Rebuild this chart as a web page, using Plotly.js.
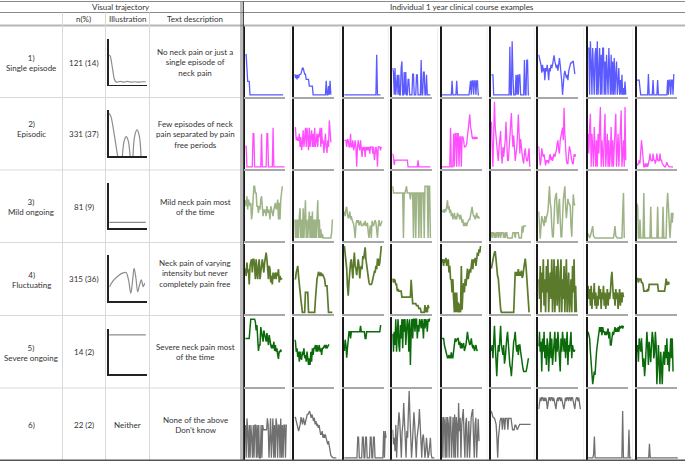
<!DOCTYPE html>
<html><head><meta charset="utf-8">
<script src="https://cdn.plot.ly/plotly-3.0.1.min.js"></script>
<style>html,body{margin:0;padding:0;background:#fff}#chart{width:685px;height:461px}</style>
</head><body><div id="chart"></div>
<script>
// ---------- text content ----------
const headerLeft = 'Visual trajectory';
const headerRight = 'Individual 1 year clinical course examples';
const columnHeaders = ['n(%)', 'Illustration', 'Text description'];
const trajectoryLabels = ['1)<br>Single episode', '2)<br>Episodic', '3)<br>Mild ongoing', '4)<br>Fluctuating', '5)<br>Severe ongoing', '6)'];
const nPercent = ['121 (14)', '331 (37)', '81 (9)', '315 (36)', '14 (2)', '22 (2)'];
const descriptions = [
  'No neck pain or just a<br>single episode of<br>neck pain',
  'Few episodes of neck<br>pain separated by pain<br>free periods',
  'Mild neck pain most<br>of the time',
  'Neck pain of varying<br>intensity but never<br>completely pain free',
  'Severe neck pain most<br>of the time',
  'None of the above<br>Don’t know'
];
const neitherText = 'Neither';

// ---------- weekly pain values (0-10) for the 9 example courses per trajectory ----------
const singleEpisodeExamples = [
  [6,6,4,2,2,2,0,0,0,0,0,0,0,0,0,0,0,0,0,0,0,0,0,0,0,0,0,0,0,0,0,0,0,0,0,0,0,0,0,0,0,0,0,0,0,0,0,0,0,0],
  [3.1,2.5,3,2.3,3,2.5,3,3.1,3.1,3.5,4,4,3.5,3.1,3.1,2.3,2.3,2.3,2.3,1.3,1.3,1.3,1.3,1.3,0,0,0,0,0,0,0,0,0,0,0,0,0,0,0,0,0,2.1,0,0,1.3,0,2.1,0],
  [0,0,0,0,0,0,0,0,0,0,0,0,0,0,0,0,0,0,0,0,0,0,0,0,0,0,0,0,0,0,0,0,0,0,0,0,0,0,0,0,0,0,6,0,0,0,0,0],
  [4,3.4,0,4,0,2.3,3,0,3,0,0,4,5,0,0,3.4,0,3.4,0,0,2.3,2.3,0,0,0,0,3.1,3.1,0,0,0,3,3,0,0,0,0,5.2,0,0,3.4,3.4,0,0,3,0,0,0,0,0],
  [0,0,0,0,0,0,0,0,0,0,0,0,0,2.1,0,0,0,0,0,2.1,0,0,0,0,0,0,0,0,0,0,0,0,0,0,0,0,1,2.1,0,2.1,2.1,0,2.1,2.1,0,2.1,2.1,0,0],
  [3,3,3,0,0,0,0,0,0,0,0,0,0,0,0,0,0,0,0,0,0,0,0,0,7.2,0,0,8,3,0,0,0,3,0,3,0,3,3,0,0,0,0,0,5.2,0,0,5.2,5.2,0,0],
  [6,5.5,5.2,4.5,3.3,4.5,3.5,4,2.2,4,3.5,4.5,3.5,2.2,4,3.5,4.5,4,4.5,5,5.9,5,4.5,4,4.5,3.6,4.5,5.5,4.5,3.5,2,0,2.5,3,3.6,3,2.5,3,2.2,3.5,4.3,4.5,4.8,4.8,5,5,4,3.1],
  [7,7,0,8,5,0,7,3,0,6,7,0,8,0,5,7,0,6,0,7,7,0,5,0,6,3,0,7,2,0,6,0,5,0,5.5,0,3,5,0,2,4,0,2.2,0,3,0,1,0,2,0],
  [2.2,2.2,2.2,2.2,1,0,0,0,0,0,0,0,0,0,0,3.1,0,0,0,0,0,2.2,0,0,0,0,0,2.2,0,0,0,0,0,0,0,0,0,0,0,0,2.2,0,2.2,2.2,0,2.2,2.2,0,3.1]
];
const episodicExamples = [
  [3.1,3.1,0,0,0,0,0,0,0,0,5,5,0,0,0,0,0,0,0,0,0,5,0,0,0,0,0,0,5,5,0,0,0,0,0,0,5.9,0,0,0,0,0,0,0,0,0,0,0,0,0,0,0],
  [5.9,5.9,4,4.5,4,4,5,3,4.5,2.5,3.5,5.5,3,4,5.9,3,5.9,4.5,2.5,5.9,3,4.5,5.5,3,5,3,5.9,3,4.5,5,3,5,4.5,5.9,3,5.9,3.5,4,2.1,4,5,3,2.1,4,3,7,4,3.8,3.8],
  [4,4,4,3,4.2,4,3,3,5,3,3,4,2.5,3,4,3,0,3,4,3,2.5,4,3,1.5,3,2.5,3,1.5,3,2.5,3,2.5,3,2,3,3,3,2,3,1,2,3,2.5,0,3,3,3,2.5,3],
  [2,1.5,0.3,1,1,1,1,1,1,1,1,1,1,1,1,1,1,1,1,1,0,0,0,0,0,0,0,0,0,0,0,0,0,1,0,0,0,0,0,0,0,0,0,0,0,0,0,0,0,0],
  [0,0,0,0,0,0,0,0,0,0,0,5.9,0,0,0,5,0,5,5,0,5,5,0,4.5,4.5,0,4.5,4.5,4,3,3,3.1,3.5,4.5,5,6,7.9,6,5.5,4.5,4.2,4.5,4.2,4.5,4.2,4.5,4.2],
  [6.8,3,0,5,9.8,6,3.5,3.3,2,0.9,3,4,5.4,2,0.5,3,1.5,2.8,4,6.8,3,1,0.9,3,3.3,6,8.1,5,3,4.7,2,0.9,2,2.8,5,7.9,5,2,4.2,2.5,1.9,1,0.5,2,2.8,1.5,0.9,0.9,2,2.8,0],
  [3.1,1.5,0.2,1,2.8,2,1.5,1.9,1,0.2,1,0.7,1,0.5,1.5,1.9,1,1.5,0.9,1.9,2,1.5,1.9,2.5,3.5,4,2.5,2,4,4.7,5,5.9,4,8.9,5,2,1,0.5,0.5,2,3.1,2.5,1.5,1,0.5,0.5,1.9,1.5,1.9],
  [5,2,6,8,0,5,3,0,6,2,0,4,0,5,2,6,9,0,4,2,0,5,8,0,3,5,0,4,0,2,6,0,4,0,3,5,8,0,2,5,0,3,6,8.5,0,2,4,0,9,1],
  [0.5,0.3,0.5,1,0.5,2,4,2.8,1,0,0,0.5,0,0.5,0,0.5,1,2,1,1,0.8,2,1,1,0.5,1,2,1,1,0.8,2,1,1,0.5,0.3,0,0,0,0.5,0.7,0.3,0,0,0,0,0,0,0]
];
const mildOngoingExamples = [
  [5.9,5,6.5,4.5,6,5.5,5,5.5,3,4,6,8,8,7,7,5,5,4,5,4.5,6,6.5,5,3.5,4.5,4,4.5,3.5,5,4,4.5,4,3,5,4.5,4,3.5,4.5,5,5.5,4.5,5,6,3,5.5,3,6,7,8],
  [3,0.2,3,0.2,3,0.2,3.5,4.7,0.2,3,0.2,4.7,0.2,3.5,5.9,0.2,3,0.2,3,4.2,0.2,3.5,0.2,4.2,0.2,3,0.2,3,0.2,3,5.9,0.2,3,0.2,1.5,0.2,0.8,0.2,0.2,0.2,0.2,0.2,0.2,0.2,0.2,0.2,0.2,0.2,1,3],
  [4.2,3.5,4.5,4.9,3.8,3.2,3.5,4.2,3,3.5,2.9,2.5,2.3,1.5,0.2,2,2.9,2.5,2.9,2.1,2.5,2.8,2.1,2.1,2.1,2.5,2.1,2.8,2.1,2.1,2.5,1,0.2,1.5,2.1,0.2,2.8,2.1,2.1,2.5,2.9,2.5,1,0.2,2,2.9,2.1,2.1,2.5,2.8],
  [8,7,7,7,7,7,7,7,7,7,7,7,7,7,0.2,7,7,7.5,8,7,7,7,7,6,7,7,7,0.2,7,7,0.2,7,7,7,0.2,7,7,0.2,7,7,7,0.2,8,8,8,8,0.2,8,8,0.2],
  [4.2,4.2,4.5,4,4.5,4.2,5,5.9,4.5,5,4,4.5,3.5,4,3,3.5,4,3,3.5,3,4,3.5,3.7,3,3.7,3.2,2.5,3,2,2.5,2,2.5,2,2.5,3,3,3,3.5,4.2,4.9,4,3.5,3.5,3,3.5,4,3.2,3.5,3.2,3.2],
  [1.1,0.2,1,1,0.2,1,0.2,1,1,0.2,1,1,0.2,1,1,1,0.2,1,0.2,1,1,0.2,0.2,0.2,0.2,0.2,0.2,0.2,1,1,1,0.2,1,1,1,1,0.2,0.2,0.2,0.2,2,1,2,2,2,2],
  [4.2,2,0.1,2,3.5,3,2.5,2,3.5,2.5,3.2,4,4.2,6,8,5.5,4.7,2,0.4,0.4,4,5.9,6.5,7,4,2.3,5,6.1,3,0.4,0.4,4,5.9,7,8,5,3.2,4.5,6.1,5.5,5.1,5.1,2,0.4,4,6.8,5.5,5.1],
  [0.9,0.5,0.2,0.5,1,1.5,2,0.5,0.2,0.2,0.2,0.2,0.2,0.2,0.2,0.2,0.2,0.2,0.2,0.2,0.2,0.2,0.2,0.2,0.2,0.2,0.2,0.2,0.2,0.2,0.2,0.2,0.2,0.2,1,2,0.5,0.2,0.2,0.2,0.2,0.2,0.2,0.2,0.2,4,7,0.2],
  [5.4,4.9,0.2,0.2,3,0.2,0.2,0.2,0.2,7,0.2,0.2,0.2,0.2,0.2,0.2,0.2,0.2,4.9,0.2,0.2,0.2,0.2,0.2,0.2,0.2,0.2,4.9,0.2,0.2,0.2,0.2,0.2,0.2,4.9,0.2,0.2,0.2,0.2,5,7,5,3,0.2,2,4,2.5,4]
];
const fluctuatingExamples = [
  [6.6,5.5,7.5,6,6.5,4.2,7,7.5,8,6,8,8,7,5,8,6,5,7,8,5,6,7,8,7,6,7.5,8,9,8,6.5,5,7,6.5,4.5,5.5,4.2,6,5,5.5,6,5,6,5.5,6.5,4.5,5.5,5,5.1,5.1],
  [5.1,5,6,6.5,7,5.5,4,3,2,1,0,0,0,0,3,3,3,3,0,0,0,0,0,0,0,0,0,2,4,5,5.5,6.1,5.8,5.5,6,5.5,5.8,5.5,5,5,4,4,4,2,0,0,0,0,0,0],
  [10,9,8,6.6,4,2.5,4.5,6.6,7.5,8,6,5.1,7.5,9,7,6.6,5.6,6.5,8,7,5.1,6.6,7,6.5,8.5,8,9,9.8,8,7,6,5.1,4.5,4.2,4.2,4.2,4.5,5.1,5.5,6.1,6,7,6.5,8,8,7,7.5,9,10],
  [5.1,4.5,5,4.8,4.2,4.2,3.2,3.5,3.2,3.2,3.2,3.2,2.3,2.3,2.3,2.3,2.3,2.3,2.3,2.3,2.3,2.3,2.3,2.3,4.9,3,1.3,1.3,1.3,1.3,1.3,1,1,1,0.6,0.6,0.6,0,0,0,0,0,1.1,0,0.8,0,1.1,0.6],
  [7.5,8,7,8,7.5,8.2,7,7.5,8,6,7,5,4.9,3,5,2,0,3,0,3,0,1.5,0,1.3,0,7,0.4,3,4.4,3,5,4,5,6.6,5,6,6.5,6,7,8,6.5,8,7.5,8.2,7,8,9,8.5,9.5,9,10],
  [6.6,7.5,8,8.5,9,9.2,8,6,5.5,5.1,3,1.5,0.5,0,0,0,0,0,0,0,0,0,0,0,0,0,0,0,0,0,3,6.1,5.5,6.1,5.5,6.5,5.5,6.1,5.5,6.3,5.2,5.5,6.5,7.5,8.1,7,5,3,1,0],
  [5,2,7,0,6,3,8,1,5,0,7,3,8,0,4,6,2,8,0,5,8,0,4,7,1,8,3,0,6,8,0,5,2,7,0,4,8,0,3,6,0,2,5,0,7,3,8,0,4,0],
  [4,2,3.5,1,4,0.5,3,2,4.4,1,3,0.5,2.5,1,4,2,3.5,0.5,3,2,4,1,3,0.5,2,3.5,1,3,2,3,5,6.1,4,2,3,1,3.5,2,3,0.5,2,3.5,1,3,1.5,3,2.3],
  [5.1,5.1,4.5,5.1,4.8,5.1,4.5,4.5,4.2,3.2,3.2,3.2,3.2,3.2,3.5,3.2,4.2,4.2,4.2,4.2,4.2,4.2,4.2,4.2,4.2,4.2,4.2,4.2,3.2,3.2,3.2,3.2,3.2,3.2,3.2,3.2,3.2,4,5.1,4.2,4.2,4.6,4.2]
];
const severeOngoingExamples = [
  [7,7,7,7,7,7,8.5,9.9,9.9,9.9,9.9,9.9,9.9,9.5,8.2,9,7,5.1,6,6,8.7,8,7.5,6.5,8.2,7.5,7,6.5,7.8,7,6,7.5,6.5,6,5.5,6,5.5,6.5,5.1,6,5,5.5,4.5,3.9,5.1,5,5.2,5],
  [6.8,6.5,5,5.5,4.2,5,3.5,5,4,3.8,5,4.5,5.5,4,4.5,3.5,5,3.8,3,4,3,5,3.5,5.5,4.5,5.5,5.5,6,5,6,5,5.5,6,5,5.5,4.5,5.5,5.5,6,6,5.5,6,5.5,5.8,6,6],
  [5.1,6.8,6,4.1,5.5,6.8,8,8,7,8,8,8,8,8,8,8,8,8,8,8,8,8.9,8,8,8,8,8,7,7,8,8,8,8,8,8,8,8,8,8,8,8,8,8,8,8,8,8,8.9,8.9],
  [7.7,5,8,6,9.9,5,8,9.9,6,5,9,7,9.9,5.5,9.9,8,9.9,6,8,9.9,9,5,9.9,3,8,9.9,7,9.9,9.9,8,9.9,9.9,7,9,8,9.9,9.5,8.5,9.9,9,7,9.9,8.5,9.9,9.5,8,9.9,9.5,10],
  [7,7,7,6,5.5,5,4.9,4.1,4.1,4.5,4.1,4.1,4.9,4.1,4.1,5.5,6.5,7,6.5,7,7,7,6,6.5,5.5,6.3,5.5,6,6.3,5.1,5.5,6,7,8,7,6.5,6,6.3,7,6,5.5,6,5.1,5.5,6,5.3,5.1],
  [5.1,6,4,7,8.9,6,3,1.3,4,6,5,7,8.9,6,5,4.5,6,3.2,4,6,7,8,6,4.5,3,2.5,1.3,3,5,6.5,7,8,6,5,6,4.5,6,6,5,4,3,2.5,2,2,2,2,2.5,3.5,3.9,3.9],
  [5.8,8,5,6.5,2,7,5,8,4,6,3,7,6,2,5,8,4,7,3,5,6.5,8,3.5,7,5,8,6,4,2,7,5,8,6,5,7,4,6,8,3,6,5,7,8,4,6,5.3,5,5.3],
  [8,7.5,7,5,3.4,2,0.1,1,2,1.5,4,5,6,6.8,7.5,8.7,8,8.7,7.5,8.7,8,8,7.5,8,7.5,8,8.5,7,8,6,6,7,8,7.5,8,8.7,8,8.5,8,8.7,8,8.9,8.5,8.9,8.9,8.5,8.9],
  [4.9,6,3.5,7,6,5,7,5,2.7,4,1.3,3,5,8,6,3,6.5,4.5,3.4,6,8,7,4,5,8,6,0.1,3,6,3,0.1,5,2,0.1,4,5,3,6,4,7,3,5,2,6,7,4,7,2]
];
const neitherExamples = [
  [4.9,0,5.9,4,0,4.9,0,4.9,3,0,4.9,0,4.9,4.9,0,4.9,0,4.9,0,0,4.9,0,4.9,4.2,4.2,4.2,4.2,4.2,5.9,4.9,0,4.9,5.9,0,4.9,5.9,0,4.9,0,5.9,4.9,0,4.9,4.9,0,5.9,0,4.9,0,4.9,4.9,0,4.9,4.9],
  [6.1,6,5.5,5.1,4.5,4,4.5,5,6.1,5.5,5,6,5,4.9,5.5,6,6.5,6.5,6.8,7,6.5,6,6.5,5.9,5.5,6,5,5.5,4.9,5,4.5,4.9,4,3.5,3.5,4,3,3.5,3,3.5,3,2.5,2,2.5,1.5,1,0.4,0.2,0,0,0,0,0,0],
  [0,0,0,0,0,0,0,0,0,0,0,0,0,0,0,0,0,3.1,3.1,0,0,0,0,3.1,3.1,0,0,3.1,3.1,0,0,0,0,3.1,3.1,0,0,3.1,3.1,0,0,0,0,0,0,0,0,0,0,0,4,0,4,3],
  [4.2,2,3,1,4.9,0,3,5,6.8,5.5,2,0,3.9,5,8.2,6,3.5,0,4,3,7,10,6,3.5,0,2,4,6.8,5,2,0,3,3.9,5,7.3,4,2.5,0,3,3.5,2,0,1,3,1.5,0,0.5,2.5,3,0.5,0,0,0,0],
  [6.1,0,6.1,5.5,0,6.1,0,6.1,5.1,0,6.1,6.1,0,5.5,6.1,0,6.5,0,6.1,5,0,8.2,4,6,0,5,6,7.3,3,0,5,6,0,4,5.5,0,5,6,6.8,7.3,3,0,5,6,0,4,5.8,2.5],
  [7,6.5,6.1,6,5.9,5.5,5,3,0,3,4.9,5.5,5.9,5.9,4.2,5.9,5.9,4.2,5.9,5.9,5.9,4.2,5.9,5.9,5.9,5.9,5,4.2,4.2,4.2,4.9,4.9,4.5,4.2,4.5,4.9,5,5,5,5,5,5,5,5,5,5,5,5,5,5,5],
  [7.3,8.5,9,8.5,9,9,8.5,9,8.5,9,8.5,7.3,8.5,9,9,8.5,9,9,8.5,9,8.5,8,7.3,8.5,9,8.5,9,9,8.5,9,8.5,8,7.3,8,9,8.5,9,9,8.5,9,9,8.5,9,9,8.5,8,7.3,8.5,9,9,8.5,9,8,7.3],
  [0,0,0,0,0,0,0,0.5,3.2,0,0,0,0,0,0,0,0,0,0,0,0,0,0,0,0,0,0,0,0,0,0,0,0,0,0,0,0,0,0,0,0,0,0,0,7,0,0,0,0,0,0,0,4.2,0,0,0],
  [0,0,0,0,0,0,0,0,0,0,0,0,0,0,0,0,2.1,0,0,0,0,0,0,0,0,0,0,0,0,0,0,0,0,0,0,0,0,0,0,0,0,0,0,0,0,0,0,0,0,0,0,0,0]
];

// ---------- schematic illustration curves (relative units) ----------
const illus1X = [0,0.03,0.06,0.1,0.14,0.18,0.22,0.3,0.4,0.5,0.6,0.7,0.8,0.9,1];
const illus1Y = [0.65,0.62,0.5,0.3,0.12,0.06,0.05,0.07,0.05,0.07,0.05,0.06,0.05,0.06,0.06];
const illus2X = [0,0.05,0.1,0.16,0.23,0.3,0.36,0.41,0.465,0.52,0.57,0.61,0.65,0.7,0.76,0.82,0.87];
const illus2Y = [0.93,0.85,0.65,0.35,0,null,0,0.33,0.42,0.33,0,null,0,0.45,0.57,0.45,0];
const illus3X = [0,1];
const illus3Y = [0.13,0.13];
const illus4X = [0.01,0.1,0.25,0.38,0.46,0.53,0.59,0.64,0.68,0.73,0.78,0.83,0.88,0.93,0.97];
const illus4Y = [0.31,0.43,0.55,0.61,0.62,0.45,0.17,0.45,0.71,0.5,0.2,0.35,0.46,0.31,0.39];
const illus5X = [0,1];
const illus5Y = [0.87,0.87];

// ---------- styles & layout geometry ----------
const seriesColors = ['#5a5aff','#ff4dff','#9eb486','#5b7a2c','#0b6b0b','#707070'];
const seriesWidths = [1.3,1.3,1.5,1.7,1.5,1.3];
const W = 685, H = 461;
const fx = v => v / W, fy = v => 1 - v / H;
const panelLeft = [245,294.3,344,392.3,441.7,491,538.3,587.7,636.5];
const rowTop = [26,98.5,171,244,316.5,389];
const rowBottom = [96.5,168.5,241,314,386.5,459.5];

const exampleSets = [singleEpisodeExamples, episodicExamples, mildOngoingExamples, fluctuatingExamples, severeOngoingExamples, neitherExamples];
const illusSets = [[illus1X,illus1Y],[illus2X,illus2Y],[illus3X,illus3Y],[illus4X,illus4Y],[illus5X,illus5Y]];
const illusTop = [39,110,183,255,329], illusBottom = [84.5,156,228.3,301,374];

const traces = [];
const layout = {
  width: W, height: H, margin: {l:0,r:0,t:0,b:0},
  paper_bgcolor: '#fff', plot_bgcolor: 'rgba(0,0,0,0)',
  showlegend: false, shapes: [], annotations: []
};
let k = 0;
function addAxes(xd, yd, xr, yr, xStyle, yStyle) {
  k++;
  const xn = k === 1 ? 'xaxis' : 'xaxis' + k;
  const yn = k === 1 ? 'yaxis' : 'yaxis' + k;
  const xs = k === 1 ? 'x' : 'x' + k;
  const ys = k === 1 ? 'y' : 'y' + k;
  layout[xn] = Object.assign({domain: xd, range: xr, anchor: ys, showgrid:false, zeroline:false, showticklabels:false, ticks:'', fixedrange:true, showline:true}, xStyle);
  layout[yn] = Object.assign({domain: yd, range: yr, anchor: xs, showgrid:false, zeroline:false, showticklabels:false, ticks:'', fixedrange:true, showline:true}, yStyle);
  return [xs, ys];
}

exampleSets.forEach((set, r) => {
  const last = r === 5;
  const pw = last ? 44 : 40;
  const xr = last ? [-0.5, 55.5] : [-0.5, 51.5];
  set.forEach((vals, c) => {
    const [xs, ys] = addAxes([fx(panelLeft[c]), fx(panelLeft[c] + pw)], [fy(rowBottom[r]), fy(rowTop[r])],
      xr, [-0.25, 10.3], {linecolor:'#a8a8a8', linewidth:2}, {linecolor:'#1a1a1a', linewidth:2});
    traces.push({x: vals.map((_, i) => i), y: vals, xaxis: xs, yaxis: ys, type:'scatter', mode:'lines',
      line: {color: seriesColors[r], width: seriesWidths[r]}, hoverinfo:'skip'});
  });
});
illusSets.forEach((pair, r) => {
  const [xs, ys] = addAxes([fx(108.5), fx(146.5)], [fy(illusBottom[r]), fy(illusTop[r])],
    [-0.02, 1.02], [0, 1], {linecolor:'#222', linewidth:1.5}, {linecolor:'#222', linewidth:1.5});
  traces.push({x: pair[0], y: pair[1], xaxis: xs, yaxis: ys, type:'scatter', mode:'lines', connectgaps:false,
    line: {color:'#8c8c8c', width:1.2, shape:'spline', smoothing:1}, hoverinfo:'skip'});
});

// ---------- table lines ----------
function hline(y, x0, x1, color, w) { return {type:'line', xref:'paper', yref:'paper', x0:fx(x0), x1:fx(x1), y0:fy(y), y1:fy(y), line:{color, width:w}}; }
function vline(x, y0, y1, color, w) { return {type:'line', xref:'paper', yref:'paper', x0:fx(x), x1:fx(x), y0:fy(y0), y1:fy(y1), line:{color, width:w}}; }
const S = layout.shapes;
S.push(hline(1.5, 0, 685, '#8a8a8a', 1));
S.push(hline(12.5, 0, 685, '#8a8a8a', 1));
S.push(hline(25.5, 0, 685, '#b5b5b5', 2));
[97.5,170,242.5,315.5,388].forEach(y => S.push(hline(y, 0, 241, '#d9d9d9', 1)));
[62.5,105.5,149.5].forEach(x => S.push(vline(x, 12.5, 460, '#d9d9d9', 1)));
[290.3,340,388.3,437.7,487,534.3,583.7,632.5].forEach(x => S.push(vline(x, 26, 460, '#eeeeee', 1)));
S.push(vline(241, 1.5, 460, '#777', 1));
S.push(vline(243.3, 1.5, 460, '#444', 1.3));
S.push(hline(460.3, 0, 685, '#555', 1.5));

// ---------- text ----------
const font = {family:'Lato, "Liberation Sans", sans-serif', size:8, color:'#333'};
function ann(text, x, y) { layout.annotations.push({text, x:fx(x), y:fy(y), xref:'paper', yref:'paper', showarrow:false, xanchor:'center', yanchor:'middle', font, align:'center'}); }
ann(headerLeft, 120.5, 7);
ann(headerRight, 462, 7);
ann(columnHeaders[0], 83.5, 19);
ann(columnHeaders[1], 127.3, 19);
ann(columnHeaders[2], 195, 19);
const labelY = [62.7,128.7,207,279.7,352.5,425];
const nY = [63.3,134,206.7,279.3,352.3,425];
const descY = [62.5,134.3,207,273.7,352.2,424.7];
trajectoryLabels.forEach((t, i) => ann(t, 31, labelY[i]));
nPercent.forEach((t, i) => ann(t, 83.5, nY[i]));
descriptions.forEach((t, i) => ann(t, 195, descY[i]));
ann(neitherText, 127.3, 425);

Plotly.newPlot('chart', traces, layout, {staticPlot:true, displayModeBar:false});
</script>
</body></html>
